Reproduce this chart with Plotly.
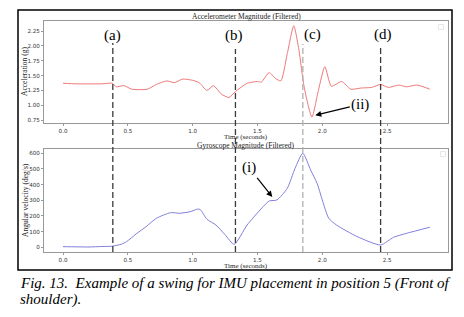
import plotly.graph_objects as go

# ---- data ----
acc_t = [0.0, 0.1, 0.2, 0.3, 0.38, 0.41, 0.47, 0.53, 0.65, 0.72, 0.80, 0.86, 0.92, 1.00, 1.05,
         1.11, 1.16, 1.22, 1.28, 1.33, 1.42, 1.50, 1.53, 1.59, 1.64, 1.68, 1.73, 1.78, 1.82,
         1.86, 1.92, 1.97, 2.02, 2.07, 2.15, 2.22, 2.30, 2.38, 2.45, 2.51, 2.59, 2.65, 2.73, 2.83]
acc_v = [1.37, 1.36, 1.36, 1.36, 1.37, 1.31, 1.33, 1.27, 1.27, 1.35, 1.41, 1.38, 1.44, 1.42, 1.38,
         1.25, 1.33, 1.19, 1.13, 1.23, 1.37, 1.40, 1.39, 1.55, 1.45, 1.41, 1.87, 2.34, 1.93,
         1.31, 0.80, 1.25, 1.65, 1.32, 1.40, 1.27, 1.29, 1.30, 1.35, 1.30, 1.34, 1.31, 1.34, 1.27]

gyr_t = [0.0, 0.1, 0.2, 0.3, 0.38, 0.45, 0.49, 0.57, 0.64, 0.72, 0.83, 0.90, 0.98, 1.04, 1.06,
         1.11, 1.18, 1.25, 1.32, 1.42, 1.52, 1.59, 1.65, 1.73, 1.79, 1.85, 1.91, 1.96, 2.00,
         2.05, 2.11, 2.27, 2.45, 2.55, 2.65, 2.83]
gyr_v = [4, 3, 2, 5, 7, 20, 36, 89, 131, 185, 221, 217, 227, 244, 240,
         179, 142, 80, 19, 142, 238, 295, 302, 376, 504, 600, 493, 408, 302,
         185, 142, 68, 15, 64, 89, 128]

event_t = [0.384, 1.33, 1.85, 2.45]
event_labels = ["(a)", "(b)", "(c)", "(d)"]
x_ticks = [0.0, 0.5, 1.0, 1.5, 2.0, 2.5]
acc_ticks = [0.75, 1.00, 1.25, 1.50, 1.75, 2.00, 2.25]
gyr_ticks = [0, 100, 200, 300, 400, 500, 600]

W, H = 464, 317
def px(x):
    return x / W
def py(y):
    return 1 - y / H

SERIF = "Liberation Serif"
SANS = "DejaVu Sans"
AX = "#999999"

fig = go.Figure()
fig.add_trace(go.Scatter(x=acc_t, y=acc_v, mode="lines", line=dict(color="#f07878", width=1, shape="spline", smoothing=0.6),
                         xaxis="x", yaxis="y", showlegend=False, hoverinfo="skip"))
fig.add_trace(go.Scatter(x=gyr_t, y=gyr_v, mode="lines", line=dict(color="#7f7fdc", width=1, shape="spline", smoothing=0.6),
                         xaxis="x2", yaxis="y2", showlegend=False, hoverinfo="skip"))

axcommon = dict(showline=True, mirror=True, linecolor=AX, linewidth=1, ticks="outside", ticklen=2,
                tickcolor=AX, tickfont=dict(family=SANS, size=5.6, color="#333"), showgrid=False,
                zeroline=False)
fig.update_layout(
    width=W, height=H, margin=dict(l=0, r=0, t=0, b=0),
    paper_bgcolor="white", plot_bgcolor="white",
    xaxis=dict(domain=[px(44), px(448)], range=[-0.147, 2.97], tickvals=x_ticks,
               ticktext=[f"{v:.1f}" for v in x_ticks], anchor="y", **axcommon),
    yaxis=dict(domain=[py(123), py(21)], range=[0.70, 2.42], tickvals=acc_ticks,
               ticktext=[f"{v:.2f}" for v in acc_ticks], anchor="x", **axcommon),
    xaxis2=dict(domain=[px(44), px(448)], range=[-0.147, 2.97], tickvals=x_ticks,
                ticktext=[f"{v:.1f}" for v in x_ticks], anchor="y2", **axcommon),
    yaxis2=dict(domain=[py(252), py(149)], range=[-30, 627], tickvals=gyr_ticks,
                anchor="x2", **axcommon),
)

shapes = []
# outer frame
shapes.append(dict(type="rect", xref="paper", yref="paper", x0=px(18), x1=px(452), y0=py(270), y1=py(10),
                   line=dict(color="black", width=1.5)))
# tiny empty legend boxes
for (lx, ly) in [(441, 27), (443, 154)]:
    shapes.append(dict(type="rect", xref="paper", yref="paper", x0=px(lx - 2.5), x1=px(lx + 2.5),
                       y0=py(ly + 2.5), y1=py(ly - 2.5), line=dict(color="#e6e6e6", width=1)))
# event lines
tops = [43, 49, 44, 45]
cols = ["#3a3a3a", "#3a3a3a", "#b0b0b0", "#3a3a3a"]
for t, top, c in zip(event_t, tops, cols):
    shapes.append(dict(type="line", xref="x", yref="paper", x0=t, x1=t, y0=py(252), y1=py(top),
                       line=dict(color=c, width=1.3, dash="6px,3px"), layer="above"))
fig.update_layout(shapes=shapes)

ann = []
label_pos = [(112, 36), (234, 36), (312, 34), (383, 35)]
for lab, (x, y) in zip(event_labels, label_pos):
    ann.append(dict(text=lab, xref="paper", yref="paper", x=px(x), y=py(y), showarrow=False,
                    xanchor="center", yanchor="middle", font=dict(family=SERIF, size=15, color="black")))

def txt(s, x, y, size=7.5, angle=0, family=SERIF, color="#222"):
    return dict(text=s, xref="paper", yref="paper", x=px(x), y=py(y), showarrow=False,
                xanchor="center", yanchor="middle", textangle=angle,
                font=dict(family=family, size=size, color=color))

ann.append(txt("Accelerometer Magnitude (Filtered)", 246, 16))
ann.append(txt("Time (seconds)", 246, 137, size=7))
ann.append(txt("Gyroscope Magnitude (Filtered)", 246, 145.5))
ann.append(txt("Time (seconds)", 246, 266, size=7))
ann.append(txt("Acceleration (g)", 24, 72, angle=-90))
ann.append(txt("Angular velocity (deg/s)", 25, 200, angle=-90))

# arrows
ann.append(dict(text="(ii)", x=1.946, y=0.83, xref="x", yref="y", showarrow=True, ax=45, ay=-11,
                arrowhead=2, arrowsize=1, arrowwidth=1.2, arrowcolor="black",
                font=dict(family=SERIF, size=15, color="black")))
ann.append(dict(text="(i)", x=1.614, y=321, xref="x2", yref="y2", showarrow=True, ax=-23, ay=-29,
                arrowhead=2, arrowsize=1, arrowwidth=1.2, arrowcolor="black",
                font=dict(family=SERIF, size=15, color="black")))

# caption
ann.append(dict(text="<i>Fig. 13.  Example of a swing for IMU placement in position 5 (Front of</i>",
                xref="paper", yref="paper", x=px(18), y=py(283), showarrow=False, xanchor="left",
                yanchor="middle", font=dict(family=SERIF, size=15, color="black")))
ann.append(dict(text="<i>shoulder).</i>", xref="paper", yref="paper", x=px(18), y=py(299), showarrow=False,
                xanchor="left", yanchor="middle", font=dict(family=SERIF, size=15, color="black")))
fig.update_layout(annotations=ann)

fig.write_html("out.html", config={"displayModeBar": False},
               post_script="document.body.style.margin='0px';document.body.style.overflow='hidden';")
